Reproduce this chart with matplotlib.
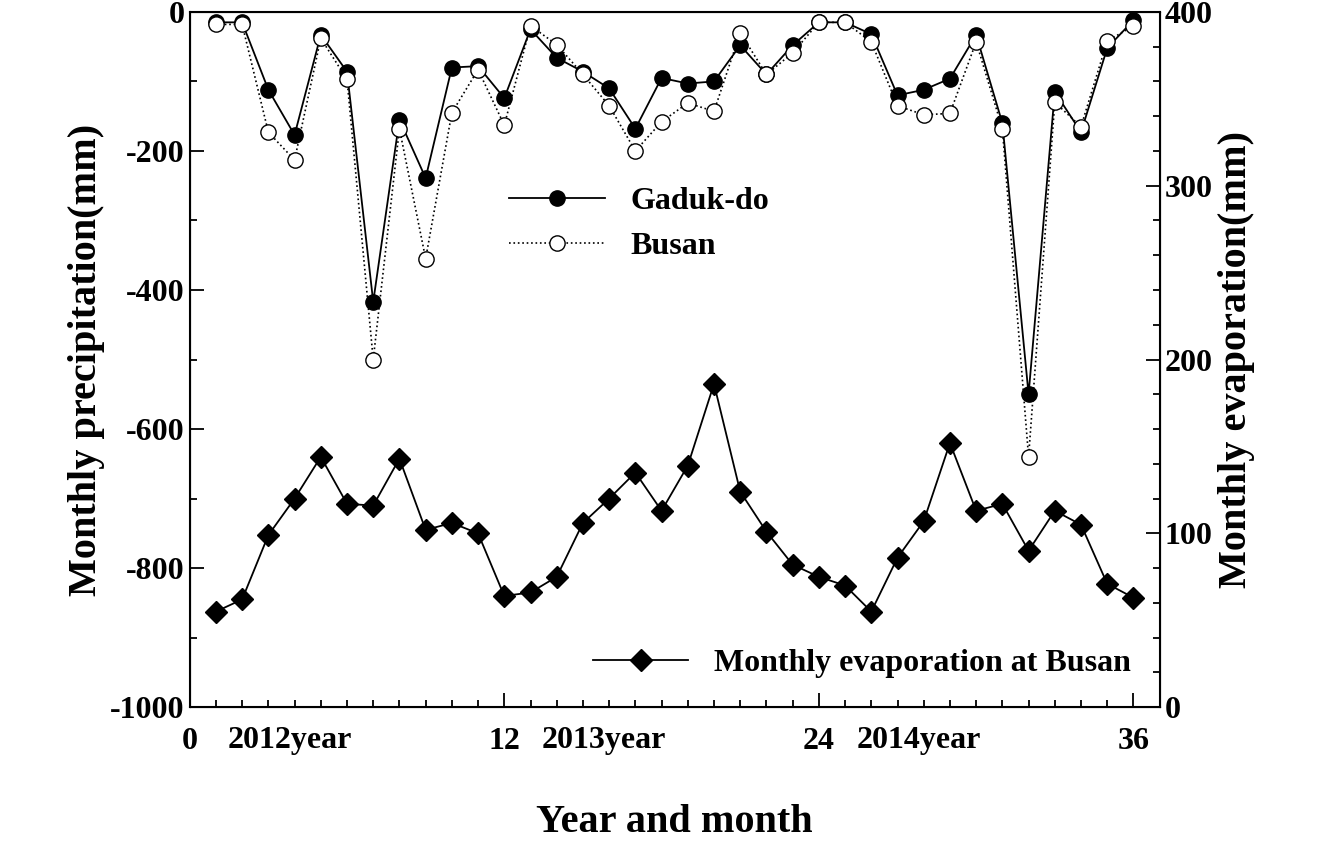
import numpy as np
import matplotlib.pyplot as plt
from matplotlib.ticker import MultipleLocator

plt.rcParams["font.family"] = "Liberation Serif"
plt.rcParams["font.weight"] = "bold"
plt.rcParams["axes.unicode_minus"] = False

months = np.arange(1, 37)
gaduk = [-15, -15, -112, -177, -33, -86, -417, -155, -239, -80, -78, -124,
         -25, -66, -86, -110, -168, -95, -103, -100, -48, -90, -48, -15,
         -15, -32, -120, -112, -96, -33, -160, -550, -115, -173, -52, -12]
busan = [-18, -18, -173, -213, -38, -97, -500, -168, -355, -145, -83, -163,
         -20, -47, -90, -135, -200, -158, -131, -143, -30, -90, -59, -15,
         -15, -43, -135, -148, -146, -43, -168, -640, -130, -165, -42, -20]
evap = [55, 62, 99, 120, 144, 117, 116, 143, 102, 106, 100, 64,
        66, 75, 106, 120, 135, 113, 139, 186, 124, 101, 82, 75,
        70, 55, 86, 107, 152, 113, 117, 90, 113, 105, 71, 63]
year_labels = ["2012year", "2013year", "2014year"]
year_pos = [3.8, 15.8, 27.8]

fig = plt.figure(figsize=(13.36, 8.5), dpi=100)
ax = fig.add_axes([0.142, 0.168, 0.726, 0.818])
ax.plot(months, gaduk, "k-", marker="o", ms=11, lw=1.3, label="Gaduk-do")
ax.plot(months, busan, "k:", marker="o", ms=11, mfc="white", lw=1.2, label="Busan")
ax.set_xlim(0, 37)
ax.set_ylim(-1000, 0)
ax.set_xticks([0, 12, 24, 36])
ax.xaxis.set_minor_locator(MultipleLocator(1))
ax.yaxis.set_major_locator(MultipleLocator(200))
ax.yaxis.set_minor_locator(MultipleLocator(100))
ax.tick_params(which="both", direction="in", labelsize=23, width=1.3)
ax.tick_params(which="major", length=10)
ax.tick_params(which="minor", length=5)
ax.tick_params(axis="x", pad=14)
ax.set_ylabel("Monthly precipitation(mm)", fontsize=29, fontweight="bold")
ax.set_xlabel("Year and month", fontsize=29, fontweight="bold", labelpad=35)
for s in ax.spines.values():
    s.set_linewidth(1.5)
for lbl, x in zip(year_labels, year_pos):
    ax.text(x, -1048, lbl, fontsize=23, fontweight="bold", ha="center",
            va="center", clip_on=False)
ax.legend(loc="upper left", bbox_to_anchor=(0.3, 0.79), frameon=False,
          fontsize=23, handlelength=3)

ax2 = ax.twinx()
ax2.plot(months, evap, "k-", marker="D", ms=11, lw=1.3, label="Monthly evaporation at Busan")
ax2.set_ylim(0, 400)
ax2.yaxis.set_major_locator(MultipleLocator(100))
ax2.yaxis.set_minor_locator(MultipleLocator(20))
ax2.tick_params(which="both", direction="in", labelsize=23, width=1.3)
ax2.tick_params(which="major", length=10)
ax2.tick_params(which="minor", length=5)
ax2.set_ylabel("Monthly evaporation(mm)", fontsize=29, fontweight="bold")
ax2.legend(loc="lower right", bbox_to_anchor=(1.0, 0.0), frameon=False,
           fontsize=23, handlelength=3)

fig.savefig("out.png", dpi=100)
